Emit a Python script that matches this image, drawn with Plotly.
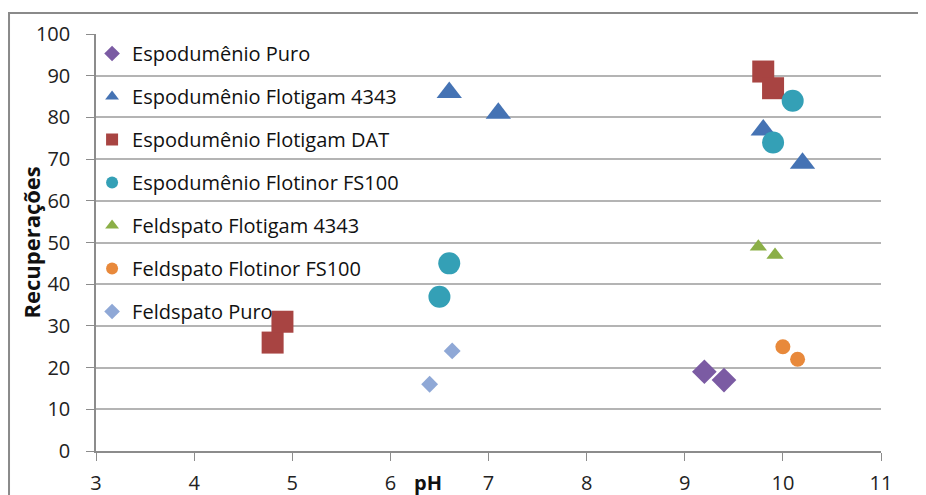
import plotly.graph_objects as go

series_names = [
    "Espodumênio Puro",
    "Espodumênio Flotigam 4343",
    "Espodumênio Flotigam DAT",
    "Espodumênio Flotinor FS100",
    "Feldspato Flotigam 4343",
    "Feldspato Flotinor FS100",
    "Feldspato Puro",
]
esp_puro_x = [9.2, 9.4]
esp_puro_y = [19, 17]
esp_4343_x = [6.6, 7.1, 9.8, 10.2]
esp_4343_y = [86, 81, 77, 69]
esp_dat_x = [4.8, 4.9, 9.8, 9.9]
esp_dat_y = [26, 31, 91, 87]
esp_fs100_x = [6.5, 6.6, 9.9, 10.1]
esp_fs100_y = [37, 45, 74, 84]
fel_4343_x = [9.75, 9.92]
fel_4343_y = [49, 47]
fel_fs100_x = [10.0, 10.15]
fel_fs100_y = [25, 22]
fel_puro_x = [6.4, 6.63]
fel_puro_y = [16, 24]

xs = [esp_puro_x, esp_4343_x, esp_dat_x, esp_fs100_x, fel_4343_x, fel_fs100_x, fel_puro_x]
ys = [esp_puro_y, esp_4343_y, esp_dat_y, esp_fs100_y, fel_4343_y, fel_fs100_y, fel_puro_y]
colors = ["#7B5BA3", "#4573B4", "#A84442", "#34A0B6", "#8BAF47", "#E8893B", "#8FA8D6"]
symbols = ["diamond", "triangle-up", "square", "circle", "triangle-up", "circle", "diamond"]
sizes = [19, 22, 22, 22, 15, 15, 13]

fig = go.Figure()
for i in range(len(series_names)):
    fig.add_trace(go.Scatter(
        x=xs[i], y=ys[i], mode="markers", name=series_names[i],
        legendgroup=str(i),
        marker=dict(color=colors[i], symbol=symbols[i], size=sizes[i], line=dict(width=0)),
    ))

FONT = "Open Sans"
fig.update_layout(
    width=918, height=487,
    margin=dict(l=88, r=45, t=26, b=44),
    paper_bgcolor="white", plot_bgcolor="white",
    font=dict(family=FONT, size=20, color="#222222"),
    showlegend=True,
    legend=dict(x=-0.005, y=1.0, xanchor="left", yanchor="top",
                bgcolor="rgba(0,0,0,0)", itemsizing="constant",
                traceorder="grouped", tracegroupgap=14,
                font=dict(family=FONT, size=20, color="#111111")),
    xaxis=dict(range=[3, 11], dtick=1, showgrid=False, zeroline=False, automargin=False,
               showline=True, linecolor="#8C8C8C", linewidth=1.5,
               ticks="outside", ticklen=8, tickcolor="#8C8C8C",
               ticklabelstandoff=5,
               tickfont=dict(size=20, family=FONT, color="#222222")),
    yaxis=dict(range=[0, 100], dtick=10, showgrid=True, gridcolor="#B4B4B4", gridwidth=1.5,
               zeroline=False, showline=True, linecolor="#8C8C8C", linewidth=1.5, automargin=False,
               ticks="outside", ticklen=8, tickcolor="#8C8C8C",
               ticklabelstandoff=12,
               tickfont=dict(size=20, family=FONT, color="#222222")),
    annotations=[
        dict(text="<b>pH</b>", x=6.38, y=-0.0767, xref="x", yref="paper",
             showarrow=False, font=dict(size=20, family=FONT, color="#111111"),
             xanchor="center", yanchor="middle"),
        dict(text="<b>Recuperações</b>", x=-0.084, y=0.5, xref="paper", yref="paper",
             showarrow=False, textangle=-90, font=dict(size=22, family=FONT, color="#111111"),
             xanchor="center", yanchor="middle"),
    ],
    shapes=[
        dict(type="rect", xref="paper", yref="paper", x0=-0.1108, x1=1.2, y0=-0.3, y1=1.0504,
             line=dict(color="#8A8A8A", width=2), fillcolor="rgba(0,0,0,0)", layer="below"),
    ],
)
fig.write_html("out.html")
